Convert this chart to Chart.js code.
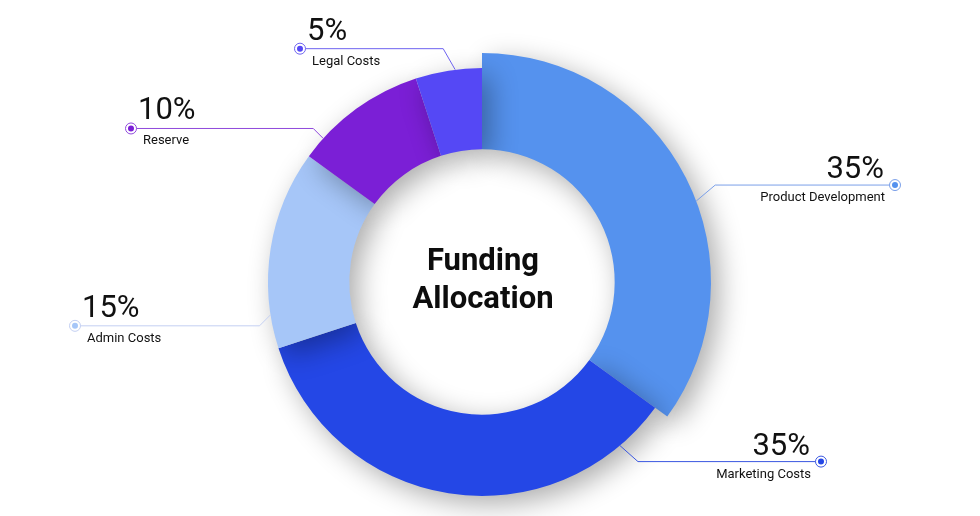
<!DOCTYPE html>
<html>
<head>
<meta charset="utf-8">
<script src="https://cdn.jsdelivr.net/npm/chart.js@4.4.1/dist/chart.umd.min.js"></script>
<style>
  html, body { margin: 0; padding: 0; background: #fff; }
  #wrap { width: 980px; height: 516px; position: relative; }
</style>
</head>
<body>
<div id="wrap"><canvas id="chart"></canvas></div>
<script>
const categories = ['Product Development', 'Marketing Costs', 'Admin Costs', 'Reserve', 'Legal Costs'];
const shares = [35, 35, 15, 10, 5];
const colors = ['#5592ee', '#2447e6', '#a6c6f8', '#7b1fd6', '#5548f5'];
const centerTitle = ['Funding', 'Allocation'];

// where each callout leaves its slice and where its dot sits
const callouts = [
  { frac: 0.55, dx: 19, dy: -16, dotX: 895, side: 'right', line: '#7a9fe8' },
  { frac: 0.11, dx: 18, dy: 16, dotX: 821, side: 'right', line: '#3a57e0' },
  { frac: 0.17, dx: -11, dy: 11, dotX: 75, side: 'left', line: '#c3cff2' },
  { frac: 0.17, dx: -10, dy: -10, dotX: 131, side: 'left', line: '#8f48dc' },
  { frac: 0.6, dx: -12, dy: -21, dotX: 300, side: 'left', line: '#6d62f0' }
];

const bigSlice = {
  id: 'bigSlice',
  afterDatasetsUpdate(chart) {
    const arc = chart.getDatasetMeta(0).data[0];
    arc.outerRadius += 15;
  }
};

const shadow = {
  id: 'shadow',
  beforeDatasetsDraw(chart) {
    const ctx = chart.ctx;
    ctx.save();
    ctx.shadowColor = 'rgba(0,0,0,0.33)';
    ctx.shadowBlur = 28;
    ctx.shadowOffsetX = 8;
    ctx.shadowOffsetY = 8;
  },
  afterDatasetsDraw(chart) {
    chart.ctx.restore();
  }
};

const callout = {
  id: 'callout',
  afterDraw(chart) {
    const ctx = chart.ctx;
    const arcs = chart.getDatasetMeta(0).data;
    ctx.save();
    arcs.forEach((arc, i) => {
      const c = callouts[i];
      const a = arc.startAngle + (arc.endAngle - arc.startAngle) * c.frac;
      const r = arc.outerRadius;
      const ax = arc.x + Math.cos(a) * r;
      const ay = arc.y + Math.sin(a) * r;
      const ex = ax + c.dx;
      const ey = ay + c.dy;
      ctx.strokeStyle = c.line;
      ctx.lineWidth = 1;
      ctx.beginPath();
      ctx.moveTo(ax, ay);
      ctx.lineTo(ex, ey);
      ctx.lineTo(c.dotX, ey);
      ctx.stroke();
      ctx.beginPath();
      ctx.arc(c.dotX, ey, 5.5, 0, Math.PI * 2);
      ctx.fillStyle = '#fff';
      ctx.fill();
      ctx.stroke();
      ctx.beginPath();
      ctx.arc(c.dotX, ey, 3, 0, Math.PI * 2);
      ctx.fillStyle = colors[i];
      ctx.fill();

      ctx.fillStyle = '#111';
      ctx.textBaseline = 'alphabetic';
      if (c.side === 'left') {
        ctx.textAlign = 'left';
        ctx.font = '400 31px Roboto';
        ctx.fillText(shares[i] + '%', c.dotX + 7, ey - 9);
        ctx.font = '400 13px Roboto';
        ctx.fillText(categories[i], c.dotX + 12, ey + 16);
      } else {
        ctx.textAlign = 'right';
        ctx.font = '400 31px Roboto';
        ctx.fillText(shares[i] + '%', c.dotX - 11, ey - 7);
        ctx.font = '400 13px Roboto';
        ctx.fillText(categories[i], c.dotX - 10, ey + 16);
      }
    });

    const cx = arcs[0].x, cy = arcs[0].y;
    ctx.fillStyle = '#0d0d0d';
    ctx.textAlign = 'center';
    ctx.font = 'bold 31px Roboto';
    ctx.fillText(centerTitle[0], cx + 1, cy - 12);
    ctx.fillText(centerTitle[1], cx + 1, cy + 26);
    ctx.restore();
  }
};

new Chart(document.getElementById('chart'), {
  type: 'doughnut',
  data: {
    labels: categories,
    datasets: [{
      data: shares,
      backgroundColor: colors,
      borderWidth: 0,
      hoverOffset: 0
    }]
  },
  options: {
    responsive: true,
    maintainAspectRatio: false,
    animation: false,
    cutout: '62%',
    layout: { padding: { top: 68, bottom: 20, left: 0, right: 16 } },
    plugins: {
      legend: { display: false },
      tooltip: { enabled: false }
    }
  },
  plugins: [bigSlice, shadow, callout]
});
</script>
</body>
</html>
